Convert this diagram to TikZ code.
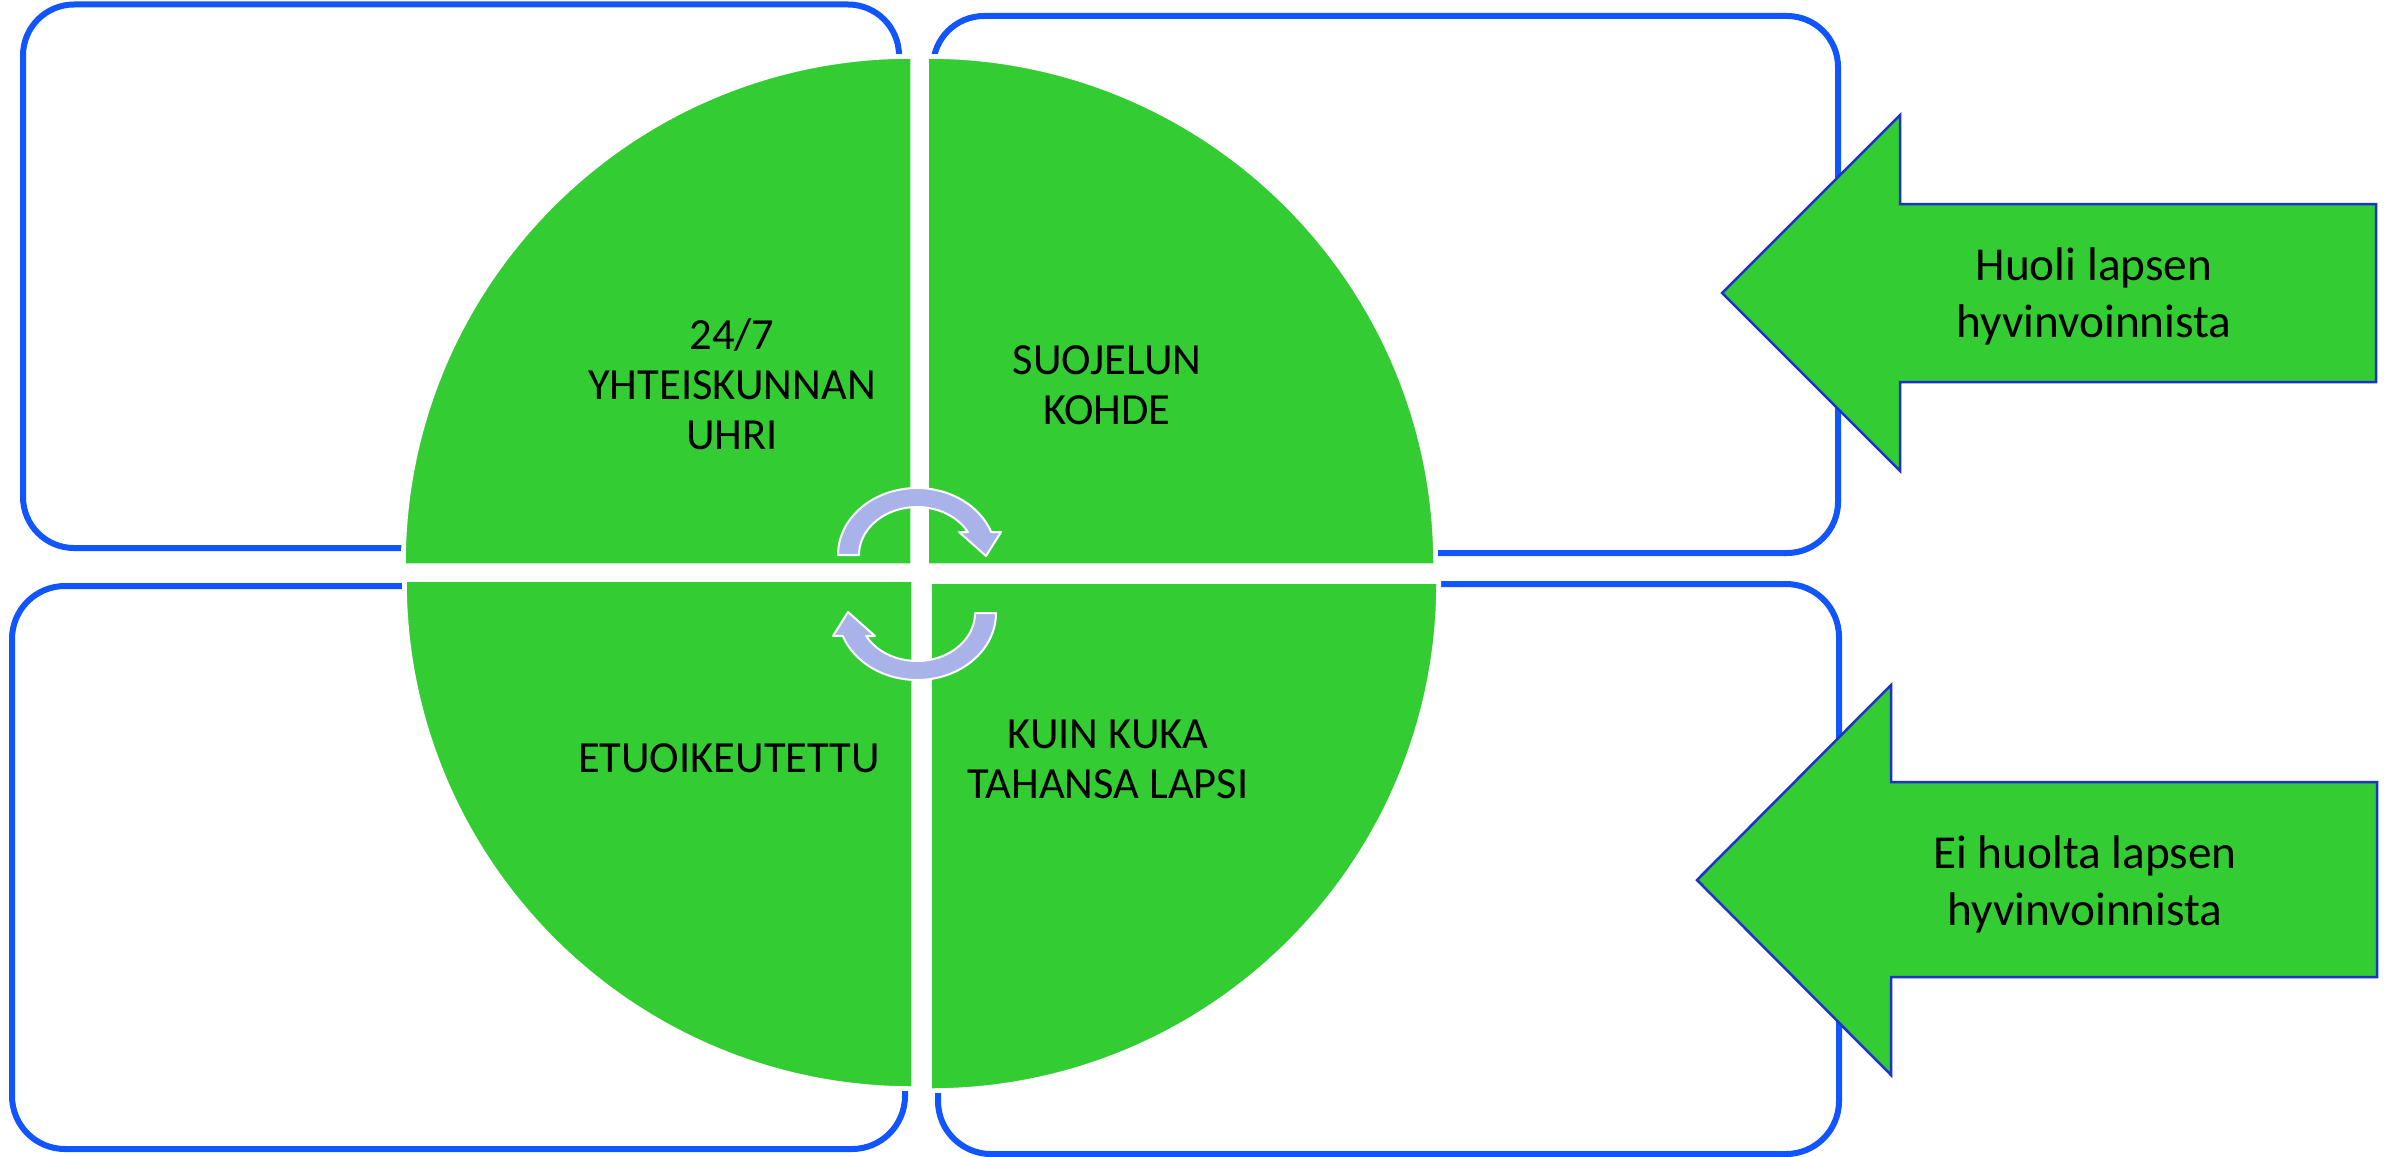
\documentclass[tikz,border=0pt]{standalone}
\usepackage{fontspec}
\setmainfont{Carlito}
\definecolor{pgreen}{RGB}{51,204,51}
\definecolor{boxblue}{RGB}{17,85,255}
\definecolor{arrowedge}{RGB}{30,50,200}
\definecolor{lav}{RGB}{170,178,234}
\begin{document}
\begin{tikzpicture}[x=1pt,y=-1pt,
  framebox/.style={draw=boxblue, line width=6pt},
  quad/.style={fill=pgreen, draw=white, line width=1.5pt,
    preaction={draw=white, line width=8pt}},
  cyc/.style={fill=lav, draw=white, line width=2pt, line join=round},
  pointer/.style={fill=pgreen, draw=arrowedge, line width=2.5pt, line join=miter},
  quadtext/.style={font=\fontsize{44.5}{50}\selectfont, anchor=base, inner sep=0pt},
  ptext/.style={font=\fontsize{47.3}{57}\selectfont, anchor=base, inner sep=0pt}]
\useasboundingbox (0,0) rectangle (2392,1156);
\fill[white] (0,0) rectangle (2392,1156);

% outer rounded frames
\draw[framebox, rounded corners=51pt] (23,4.5) rectangle (899,548);
\draw[framebox, rounded corners=51pt] (933,16) rectangle (1838,553);
\draw[framebox, rounded corners=53pt] (12,586) rectangle (905,1149);
\draw[framebox, rounded corners=53pt] (938,584) rectangle (1839,1154);

% pie quadrants
\path[quad] (911,564) -- (405,564) arc[start angle=180, end angle=270, radius=506] -- cycle;
\path[quad] (928,564) -- (928,58) arc[start angle=270, end angle=360, radius=506] -- cycle;
\path[quad] (912,581) -- (406,581) arc[start angle=180, end angle=90, radius=506] -- cycle;
\path[quad] (931,583) -- (1437,583) arc[start angle=0, end angle=90, radius=506] -- cycle;

% cycle arrows
\path[cyc] (838,555) arc[start angle=180, end angle=340, x radius=79, y radius=67]
  -- (1001,532) -- (986,556) -- (959,532) -- (967.9,532)
  arc[start angle=331.37, end angle=180, x radius=58, y radius=48] -- cycle;
\path[cyc, rotate around={180:(917,584)}] (838,555) arc[start angle=180, end angle=340, x radius=79, y radius=67]
  -- (1001,532) -- (986,556) -- (959,532) -- (967.9,532)
  arc[start angle=331.37, end angle=180, x radius=58, y radius=48] -- cycle;

% quadrant texts
\node[quadtext] (tla) at (732,349) {24/7};
\node[quadtext] (tlb) at (732,399) {YHTEISKUNNAN};
\node[quadtext] (tlc) at (732,449) {UHRI};
\node[quadtext] (tra) at (1107,374) {SUOJELUN};
\node[quadtext] (trb) at (1107,424) {KOHDE};
\node[quadtext] (bla) at (729,772) {ETUOIKEUTETTU};
\node[quadtext] (bra) at (1108,748) {KUIN KUKA};
\node[quadtext] (brb) at (1108,798) {TAHANSA LAPSI};

% pointer arrows
\path[pointer] (1722,293) -- (1900,115) -- (1900,204) -- (2376,204) -- (2376,382) -- (1900,382) -- (1900,471) -- cycle;
\path[pointer] (1697,880) -- (1891,685) -- (1891,782) -- (2377,782) -- (2377,977) -- (1891,977) -- (1891,1075) -- cycle;
\node[ptext] (p1a) at (2094,280) {Huoli lapsen};
\node[ptext] (p1b) at (2094,337) {hyvinvoinnista};
\node[ptext] (p2a) at (2085,868) {Ei huolta lapsen};
\node[ptext] (p2b) at (2085,925) {hyvinvoinnista};
\end{tikzpicture}
\end{document}
